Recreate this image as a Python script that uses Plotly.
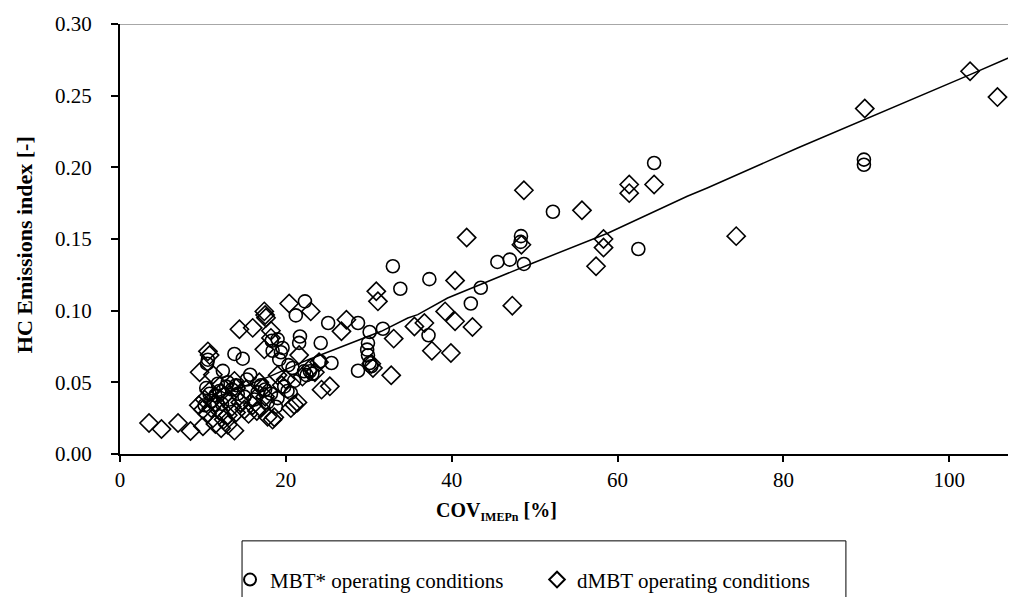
import plotly.graph_objects as go

# MBT* operating conditions (circles)
mbt_x = [89.7, 89.7, 64.4, 62.5, 52.2, 48.35, 48.3, 48.7, 47.0, 45.5, 43.5, 42.3, 37.3, 37.2,
         33.8, 32.9, 31.7, 30.1, 29.9, 29.8, 29.9, 30.1, 30.3, 28.7, 28.7, 25.1, 25.5, 24.1, 24.2,
         22.3, 21.2, 21.7, 21.6, 22.9, 22.2, 20.8, 20.3, 22.5,
         19.0, 18.3, 18.4, 19.6, 19.4, 19.2, 13.8, 14.8, 10.6, 10.5, 12.4, 15.7, 15.3,
         20.6, 17.0, 17.5, 18.2, 19.8, 21.0, 16.2, 17.8, 18.8, 15.0, 13.5, 12.8, 12.0, 11.5,
         10.4, 10.8, 11.0, 10.2, 12.3, 13.2, 14.2, 11.8, 13.0, 14.0, 16.6, 19.0, 20.2, 23.2]
mbt_y = [0.2054, 0.2018, 0.203, 0.143, 0.169, 0.152, 0.148, 0.1326, 0.1356, 0.134, 0.116, 0.105, 0.122, 0.0828,
         0.1153, 0.131, 0.0874, 0.0851, 0.0774, 0.0728, 0.0689, 0.0635, 0.0612, 0.0914, 0.0581, 0.0914, 0.0635, 0.0647, 0.0774,
         0.1065, 0.0967, 0.082, 0.0775, 0.0577, 0.0577, 0.060, 0.062, 0.055,
         0.080, 0.079, 0.072, 0.074, 0.071, 0.066, 0.0698, 0.0665, 0.0658, 0.063, 0.058, 0.0553, 0.052,
         0.0426, 0.048, 0.045, 0.042, 0.047, 0.051, 0.038, 0.036, 0.033, 0.040, 0.045, 0.047, 0.044, 0.041,
         0.046, 0.042, 0.037, 0.034, 0.035, 0.038, 0.042, 0.049, 0.050, 0.048, 0.043, 0.039, 0.044, 0.056]

# dMBT operating conditions (diamonds)
dmbt_x = [102.5, 105.8, 89.8, 74.3, 64.4, 61.4, 61.4, 58.3, 58.3, 57.4, 55.7, 48.7, 48.4, 47.3,
          42.5, 41.8, 40.4, 40.4, 39.9, 39.2, 37.6, 36.7, 35.5, 32.7, 33.0, 30.9, 31.1, 30.5, 30.3,
          27.3, 26.7, 25.3, 24.3, 23.0, 20.4, 21.6, 21.0, 21.4, 20.6,
          18.2, 18.2, 17.4, 17.4, 17.5, 17.6, 16.0, 14.4, 17.8, 18.4, 18.6,
          3.5, 5.0, 7.0, 8.5, 10.0, 12.2, 13.8, 13.0, 11.5, 12.5,
          10.6, 10.8, 9.6, 11.2,
          9.5, 10.0, 10.5, 11.0, 10.2, 10.8, 11.5, 12.0, 12.5, 13.0, 13.5, 14.0, 14.5, 15.0,
          15.5, 16.0, 16.5, 17.0, 17.5, 17.2, 16.8, 15.2, 14.0, 12.2, 13.8, 19.5, 19.0, 20.0,
          22.0, 23.5, 23.0, 24.0]
dmbt_y = [0.267, 0.249, 0.241, 0.152, 0.188, 0.188, 0.182, 0.150, 0.144, 0.131, 0.170, 0.184, 0.146, 0.1035,
          0.0886, 0.151, 0.121, 0.0926, 0.0705, 0.0995, 0.072, 0.0914, 0.089, 0.0549, 0.0805, 0.1135, 0.1065, 0.060, 0.063,
          0.0937, 0.0856, 0.0472, 0.0449, 0.0995, 0.105, 0.069, 0.0344, 0.036, 0.032,
          0.086, 0.081, 0.073, 0.0995, 0.097, 0.095, 0.088, 0.087, 0.026, 0.024, 0.0256,
          0.0216, 0.0174, 0.0216, 0.016, 0.0193, 0.018, 0.0163, 0.0204, 0.021, 0.024,
          0.0716, 0.069, 0.057, 0.0553,
          0.034, 0.031, 0.028, 0.032, 0.038, 0.044, 0.036, 0.030, 0.040, 0.027, 0.033, 0.029, 0.036, 0.031,
          0.028, 0.034, 0.030, 0.032, 0.040, 0.046, 0.050, 0.045, 0.046, 0.043, 0.051, 0.048, 0.055, 0.052,
          0.054, 0.057, 0.060, 0.064]

# Trend line
trend_x = [10.0, 15.0, 18.0, 22.2, 22.7, 31.5, 34.7, 35.9, 39.5, 49.8, 58.8, 68.4, 70.8, 81.7, 89.8, 102.5, 109.0]
trend_y = [0.036, 0.047, 0.054, 0.0646, 0.0658, 0.0856, 0.0949, 0.0972, 0.1088, 0.1333, 0.154, 0.1798, 0.1856, 0.2135, 0.2333, 0.2647, 0.281]

FONT = "Liberation Serif, Times New Roman, serif"

fig = go.Figure()
fig.add_trace(go.Scatter(x=trend_x, y=trend_y, mode="lines", line=dict(color="black", width=1.5),
                         showlegend=False, hoverinfo="skip"))
fig.add_trace(go.Scatter(x=mbt_x, y=mbt_y, mode="markers", name="MBT* operating conditions",
                         marker=dict(symbol="circle-open", size=13, color="black", line=dict(width=1.6))))
fig.add_trace(go.Scatter(x=dmbt_x, y=dmbt_y, mode="markers", name="dMBT operating conditions",
                         marker=dict(symbol="diamond-open", size=14, color="black", line=dict(width=1.6))))

# gray top border of the plot area
fig.add_shape(type="line", xref="paper", yref="y", x0=0, x1=1, y0=0.30, y1=0.30,
              line=dict(color="#8a8a8a", width=1.5))
# legend frame (cut by the bottom edge of the picture)
fig.add_shape(type="rect", xref="paper", yref="paper", x0=0.135, x1=0.803, y0=-0.40, y1=-0.202,
              line=dict(color="black", width=1), fillcolor="rgba(0,0,0,0)")

# axis titles
fig.add_annotation(text="<b>COV<sub><span style='font-size:12px'>IMEPn</span></sub> [%]</b>",
                   xref="paper", yref="paper", x=0.417, y=-0.133, xanchor="center", yanchor="middle",
                   showarrow=False, font=dict(family=FONT, size=20, color="black"))
fig.add_annotation(text="<b>HC Emissions index [-]</b>", textangle=-90,
                   xref="paper", yref="paper", x=-0.106, y=0.486, xanchor="center", yanchor="middle",
                   showarrow=False, font=dict(family=FONT, size=22, color="black"))

fig.update_layout(
    width=1016, height=597,
    margin=dict(l=112, r=0, t=16, b=151, autoexpand=False),
    paper_bgcolor="white", plot_bgcolor="white",
    font=dict(family=FONT, size=21, color="black"),
    showlegend=True,
    legend=dict(orientation="h", xref="paper", x=0.1217, xanchor="left",
                yref="container", y=0.042, yanchor="middle",
                borderwidth=0, bgcolor="rgba(0,0,0,0)",
                font=dict(family=FONT, size=21), itemsizing="constant",
                entrywidth=262, entrywidthmode="pixels"),
    xaxis=dict(range=[0, 109], dtick=20, tick0=0, showgrid=False, zeroline=False,
               showline=True, linecolor="black", linewidth=2, automargin=False,
               ticks="outside", ticklen=6, tickwidth=2, tickcolor="black"),
    yaxis=dict(range=[0, 0.30], dtick=0.05, tickformat=".2f", showgrid=False, zeroline=False,
               showline=True, linecolor="black", linewidth=2, automargin=False,
               ticks="outside", ticklen=7, tickwidth=2, tickcolor="black", ticklabelstandoff=15),
)

fig.write_html("out.html")
